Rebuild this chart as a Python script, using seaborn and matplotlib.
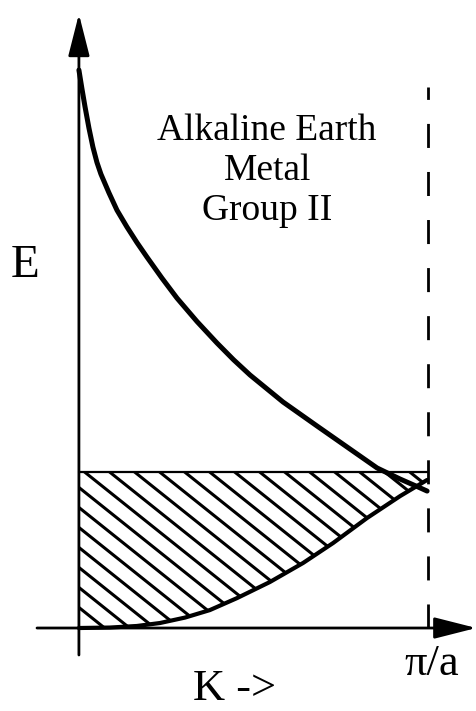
import numpy as np
import pandas as pd
import seaborn as sns
import matplotlib.pyplot as plt

# band diagram values (k in units of pi/a, E with Fermi level = 1)
upper_k = [0.0, 0.0086, 0.0172, 0.0287, 0.0401, 0.0516, 0.0630, 0.0745, 0.0860, 0.1089,
           0.1375, 0.1662, 0.1948, 0.2378, 0.2808, 0.3381, 0.3954, 0.4427, 0.4900, 0.5845,
           0.6819, 0.7765, 0.8539, 0.9198, 0.9685, 0.9971]
upper_E = [3.577, 3.458, 3.345, 3.205, 3.083, 2.985, 2.910, 2.850, 2.790, 2.679,
           2.571, 2.471, 2.378, 2.243, 2.115, 1.965, 1.827, 1.720, 1.622, 1.449,
           1.295, 1.147, 1.026, 0.955, 0.907, 0.878]
lower_k = [0.0, 0.089, 0.166, 0.232, 0.304, 0.375, 0.453, 0.547, 0.642, 0.728, 0.825, 0.920, 0.997]
lower_E = [0.0, 0.003, 0.013, 0.032, 0.067, 0.115, 0.192, 0.295, 0.417, 0.545, 0.705, 0.846, 0.949]
fermi_E = 1.0
zone_edge = 1.0
zone_top = 3.468
title_lines = ['Alkaline Earth', 'Metal', 'Group II']

upper = pd.DataFrame({'k': upper_k, 'E': upper_E})
lower = pd.DataFrame({'k': lower_k, 'E': lower_E})

sns.set_style('white')
plt.rcParams['font.family'] = ['Liberation Serif', 'DejaVu Serif']
plt.rcParams['text.color'] = 'black'

fig = plt.figure(figsize=(4.77, 7.11), dpi=100)
ax = fig.add_axes([0, 0, 1, 1])
ax.set_xlim(-0.226, 1.140)
ax.set_ylim(-0.532, 4.026)
ax.axis('off')

# axes with arrow heads
arrow = dict(arrowstyle='-|>,head_length=1.3,head_width=0.33', mutation_scale=20,
             lw=2, color='black', shrinkA=0, shrinkB=0)
ax.annotate('', xy=(0, 3.936), xytext=(0, -0.173), arrowprops=arrow)
ax.annotate('', xy=(1.138, 0), xytext=(-0.120, 0), arrowprops=arrow)

# brillouin zone boundary
lw_d = 2.0
ax.plot([zone_edge, zone_edge], [0, zone_top], color='black', lw=lw_d,
        ls=(0, (17.3 / lw_d, 17.3 / lw_d)), solid_capstyle='butt', dash_capstyle='butt')

# filled states: hatched region between lower band and Fermi level
poly = ax.fill_between(lower['k'], lower['E'], fermi_E, facecolor='none', edgecolor='none')
step = 25 / 349
slope = -0.8 * 349 / 156
for k0 in np.arange(-0.7, 1.1, step):
    kk = np.array([k0 - 0.1, k0 + 1.0])
    ln, = ax.plot(kk, fermi_E + slope * (kk - k0), color='black', lw=2.2, solid_capstyle='butt')
    ln.set_clip_path(poly.get_paths()[0], ax.transData)

ax.plot([0, zone_edge], [fermi_E, fermi_E], color='black', lw=1.6)

# bands
sns.lineplot(data=upper, x='k', y='E', ax=ax, color='black', lw=3.6, sort=False, estimator=None)
sns.lineplot(data=lower, x='k', y='E', ax=ax, color='black', lw=3.0, sort=False, estimator=None)

# labels
for i, line in enumerate(title_lines):
    ax.text(0.539, 3.128 - i * 0.2565, line, fontsize=27, color='black', ha='center', va='baseline')
ax.text(-0.195, 2.25, 'E', fontsize=34, color='black', ha='left', va='baseline')
ax.text(1.011, -0.301, 'π/a', fontsize=32, color='black', ha='center', va='baseline')
ax.text(0.447, -0.461, 'K ->', fontsize=32, color='black', ha='center', va='baseline')

fig.savefig('out.png', dpi=100)
